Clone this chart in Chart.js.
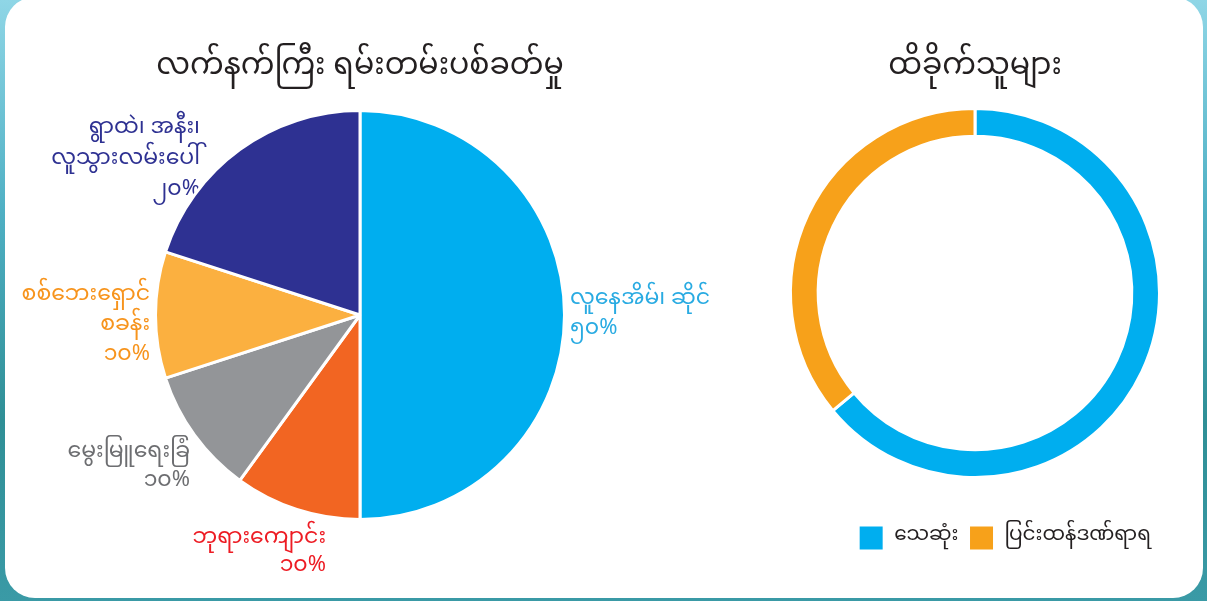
<!DOCTYPE html>
<html>
<head>
<meta charset="utf-8">
<script src="https://cdn.jsdelivr.net/npm/chart.js@4.4.1/dist/chart.umd.min.js"></script>
<style>
  html, body { margin: 0; padding: 0; }
  body {
    width: 1207px; height: 601px; overflow: hidden; position: relative;
    background: linear-gradient(180deg, #8fd6e6 0%, #4fb0c4 35%, #2f8f96 70%, #3a9aa6 100%);
  }
  #card {
    position: absolute; left: 5px; top: -3px; width: 1198px; height: 601px;
    background: #ffffff; border-radius: 30px;
  }
  #pieWrap { position: absolute; left: 0; top: 0; width: 720px; height: 601px; }
  #ringWrap { position: absolute; left: 720px; top: 0; width: 487px; height: 601px; }
</style>
</head>
<body>
<div id="card"></div>
<div id="pieWrap"><canvas id="pie"></canvas></div>
<div id="ringWrap"><canvas id="ring"></canvas></div>
<script>
// ---- data ----
const pieTitle = 'လက်နက်ကြီး ရမ်းတမ်းပစ်ခတ်မှု';
const pieCategories = [
  ['လူနေအိမ်၊ ဆိုင်'],
  ['ဘုရားကျောင်း'],
  ['မွေးမြူရေးခြံ'],
  ['စစ်ဘေးရှောင်', 'စခန်း'],
  ['ရွာထဲ၊ အနီး၊', 'လူသွားလမ်းပေါ်']
];
const pieValues = [50, 10, 10, 10, 20];
const pieColors = ['#00AEEF', '#F26522', '#939598', '#FBB040', '#2E3192'];
const pieLabelColors = ['#29ABE2', '#ED1C24', '#6D6E71', '#F7941D', '#2E3192'];

const ringTitle = 'ထိခိုက်သူများ';
const ringCategories = ['သေဆုံး', 'ပြင်းထန်ဒဏ်ရာရ'];
const ringValues = [64, 36];
const ringColors = ['#00AEEF', '#F7A11A'];

// ---- helpers ----
const MY_FONT = "'Noto Sans Myanmar', 'Myanmar Text', 'Padauk', 'Myanmar3', 'Noto Sans', sans-serif";
const myDigits = ['၀','၁','၂','၃','၄','၅','၆','၇','၈','၉'];
function toMyanmarNum(n) { return String(n).split('').map(d => myDigits[+d] ?? d).join(''); }

// label placement (layout only)
const labelLayout = [
  { x: 570, y: 302, align: 'left',  gap: 30 },
  { x: 326, y: 541, align: 'right', gap: 28 },
  { x: 190, y: 455, align: 'right', gap: 29 },
  { x: 150, y: 298, align: 'right', gap: 30 },
  { x: 200, y: 131, align: 'right', gap: 31 }
];

const pieLabelPlugin = {
  id: 'pieLabels',
  beforeDatasetsDraw(chart) {
    const ctx = chart.ctx;
    const vals = chart.data.datasets[0].data;
    ctx.save();
    ctx.font = '22px ' + MY_FONT;
    ctx.textBaseline = 'middle';
    vals.forEach((v, i) => {
      const L = labelLayout[i];
      const lines = pieCategories[i].concat([toMyanmarNum(v) + '%']);
      ctx.fillStyle = pieLabelColors[i];
      ctx.textAlign = L.align;
      lines.forEach((t, k) => ctx.fillText(t, L.x, L.y + k * L.gap));
    });
    ctx.restore();
  }
};

Chart.defaults.font.family = MY_FONT;

new Chart(document.getElementById('pie'), {
  type: 'pie',
  data: {
    labels: pieCategories.map(c => c.join(' ')),
    datasets: [{
      data: pieValues,
      backgroundColor: pieColors,
      borderColor: '#ffffff',
      borderWidth: 3
    }]
  },
  options: {
    responsive: true,
    maintainAspectRatio: false,
    animation: false,
    layout: { padding: { left: 154, right: 154, bottom: 80, top: 0 } },
    plugins: {
      legend: { display: false },
      tooltip: { enabled: false },
      title: {
        display: true,
        text: pieTitle,
        color: '#231F20',
        font: { size: 30, weight: 'normal', lineHeight: 1.2 },
        padding: { top: 53, bottom: 20 }
      }
    }
  },
  plugins: [pieLabelPlugin]
});

new Chart(document.getElementById('ring'), {
  type: 'doughnut',
  data: {
    labels: ringCategories,
    datasets: [{
      data: ringValues,
      backgroundColor: ringColors,
      borderColor: '#ffffff',
      borderWidth: 3
    }]
  },
  options: {
    responsive: true,
    maintainAspectRatio: false,
    animation: false,
    cutout: '85%',
    layout: { padding: { left: 69, right: 46, bottom: 40, top: 0 } },
    plugins: {
      tooltip: { enabled: false },
      title: {
        display: true,
        text: ringTitle,
        color: '#231F20',
        font: { size: 30, weight: 'normal', lineHeight: 1.2 },
        padding: { top: 53, bottom: 15 }
      },
      legend: {
        position: 'bottom',
        align: 'end',
        title: { display: true, text: '', font: { size: 10, lineHeight: 1.2 }, padding: { top: 21, bottom: 0 } },
        labels: {
          boxWidth: 26,
          boxHeight: 26,
          padding: 10,
          color: '#231F20',
          font: { size: 20 }
        }
      }
    }
  }
});
</script>
</body>
</html>
